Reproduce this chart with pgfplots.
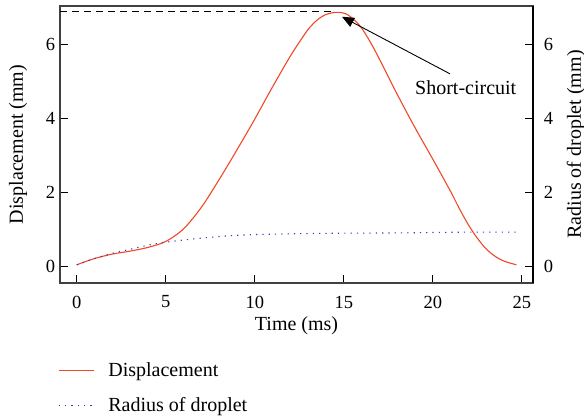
\documentclass[border=0pt]{standalone}
\usepackage{pgfplots}
\pgfplotsset{compat=1.18}
\usepackage{fontspec}
\setmainfont{Liberation Serif}
\usetikzlibrary{arrows.meta}
\definecolor{dispred}{HTML}{F04828}
\definecolor{raddot}{HTML}{3A3AB0}
\definecolor{framecol}{HTML}{404040}
\begin{document}
\fontsize{20bp}{24bp}\selectfont
\begin{tikzpicture}
\path[use as bounding box] (-60bp,-134bp) rectangle (524bp,283bp);
\begin{axis}[
  at={(0,0)}, anchor=south west,
  scale only axis, width=473bp, height=277bp,
  xmin=-0.94, xmax=25.63, ymin=-0.44, ymax=7.03,
  axis line style={framecol, line width=1.2bp},
  xtick={0,5,10,15,20,25}, ytick={0,2,4,6},
  xtick pos=bottom, ytick pos=left, tick align=inside,
  major tick length=8bp,
  tick style={black, line width=0.9bp},
  /pgf/number format/assume math mode=true,
  tick label style={font=\fontsize{18.5bp}{20bp}\selectfont},
  xticklabel style={yshift=-6bp},
  yticklabel style={xshift=2bp},
  xlabel={Time (ms)}, ylabel={Displacement (mm)},
  xlabel style={at={(axis description cs:0.5,-0.155)}, anchor=center},
  ylabel style={at={(axis description cs:-0.0888,0.5)}, anchor=center},
  legend style={at={(axis description cs:-0.004,-0.380)}, anchor=west, draw=none, fill=none,
    inner sep=0pt, row sep=14bp, font=\fontsize{20bp}{24bp}\selectfont},
  legend cell align=left,
  legend image code/.code={\draw[#1] (0bp,0bp) -- (35bp,0bp); \path (47bp,0bp);},
]
\addplot[dispred, line width=1.1bp, smooth] coordinates {
(0,0.05) (1,0.22) (2,0.34) (3,0.42) (4,0.52) (5,0.68) (6,1.02) (7,1.6) (8,2.35) (9,3.15)
(10,3.98) (11,4.85) (12,5.68) (12.5,6.05) (13,6.4) (13.5,6.65) (14,6.8) (14.6,6.86) (15.2,6.8)
(15.9,6.5) (16.5,6.05) (17,5.6) (18,4.65) (19,3.75) (20,2.9) (21,2.03) (21.5,1.56) (22,1.13)
(22.5,0.77) (23,0.48) (23.5,0.28) (24,0.15) (24.7,0.05)
};
\addlegendentry{Displacement}
\addplot[raddot, line width=1.1bp, dash pattern=on 1.2bp off 5.1bp, smooth] coordinates {
(0,0.05) (0.5,0.14) (1,0.22) (2,0.36) (3,0.47) (4,0.58) (5,0.66) (6.6,0.75) (8.45,0.83)
(10.3,0.87) (14,0.9) (17.8,0.91) (21.5,0.93) (24.7,0.93)
};
\addlegendentry{Radius of droplet}
\addplot[black, line width=0.9bp, dash pattern=on 7bp off 5bp, forget plot] coordinates {(-0.94,6.87) (14.4,6.87)};
\draw[black, line width=0.9bp, -{Triangle[length=12bp,width=10bp]}] (axis cs:20.97,5.2) -- (axis cs:14.9,6.74);
\node[font=\fontsize{20bp}{24bp}\selectfont] at (axis cs:21.85,4.82) {Short-circuit};
\end{axis}
\begin{axis}[
  at={(0,0)}, anchor=south west,
  scale only axis, width=473bp, height=277bp,
  xmin=-0.94, xmax=25.63, ymin=-0.44, ymax=7.03,
  axis x line=none, axis y line*=right,
  axis line style={black, line width=1.2bp},
  ytick={0,2,4,6}, tick align=inside,
  major tick length=8bp,
  tick style={black, line width=0.9bp},
  /pgf/number format/assume math mode=true,
  tick label style={font=\fontsize{18.5bp}{20bp}\selectfont},
  yticklabel style={xshift=4bp},
  ylabel={Radius of droplet (mm)},
  ylabel style={at={(axis description cs:1.091,0.5)}, anchor=center, rotate=0},
]
\addplot[draw=none] coordinates {(0,0)};
\end{axis}
\end{tikzpicture}
\end{document}
